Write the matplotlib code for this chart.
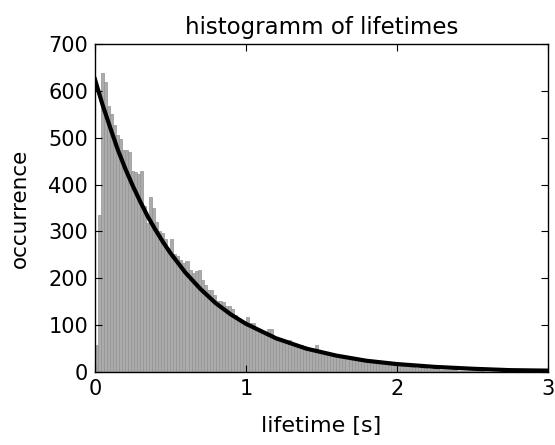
import numpy as np
import matplotlib
matplotlib.use('Agg')
import matplotlib.pyplot as plt

plt.rcParams['font.family'] = ['DejaVu Sans']

# histogram: bin width 0.02 s, counts
bin_width = 0.02
counts = [58, 336, 639, 618, 568, 551, 527, 506, 497, 473,
          473, 469, 430, 426, 423, 430, 355, 318, 374, 350,
          321, 301, 297, 283, 265, 283, 251, 248, 240, 233,
          236, 218, 211, 215, 218, 197, 185, 176, 174, 165,
          152, 152, 150, 140, 140, 134, 122, 116, 111, 108,
          117, 105, 105, 94, 92, 86, 80, 91, 91, 75,
          73, 73, 70, 65, 69, 60, 59, 58, 57, 55,
          50, 49, 48, 58, 45, 43, 42, 41, 40, 38,
          35, 34, 33, 32, 30, 29, 28, 27, 25, 24,
          23, 22, 21, 20, 19, 18, 17, 16, 15, 14,
          14, 13, 12, 11, 11, 10, 9, 9, 8, 8,
          7, 7, 6, 6, 5, 5, 5, 4, 4, 4,
          3, 3, 3, 3, 2, 2, 2, 2, 2, 1,
          1, 1, 1, 1, 1, 1, 0, 1, 0, 0,
          0, 0, 0, 0, 0, 0, 0, 0, 0, 0]
bin_left = np.arange(len(counts)) * bin_width

# exponential fit curve
fit_t = [0, 0.05, 0.1, 0.15, 0.2, 0.25, 0.3, 0.35, 0.4, 0.45, 0.5, 0.6, 0.7, 0.8,
         0.9, 1.0, 1.2, 1.4, 1.6, 1.8, 2.0, 2.25, 2.5, 2.75, 3.0]
fit_n = [625, 571, 523, 476, 435, 398, 364, 332, 304, 278, 254, 212, 177, 147,
         123, 103, 72, 50, 35, 24, 17, 11, 7, 4, 3]

fig = plt.figure(figsize=(5.55, 4.45), dpi=100)
ax = fig.add_axes([0.171, 0.164, 0.816, 0.737])

ax.bar(bin_left, counts, width=bin_width, align='edge',
       color='#ababab', edgecolor='#939393', linewidth=0.5)
ax.plot(fit_t, fit_n, color='black', linewidth=3)

ax.set_xlim(0, 3)
ax.set_ylim(0, 700)
ax.set_xticks([0, 1, 2, 3])
ax.set_yticks(range(0, 701, 100))
ax.tick_params(direction='in', top=True, right=True, length=5, width=0.8,
               labelsize=15, pad=5)
for s in ax.spines.values():
    s.set_linewidth(1.0)

ax.set_xlabel('lifetime [s]', fontsize=16, labelpad=12)
ax.set_ylabel('occurrence', fontsize=15.5, labelpad=13)
ax.set_title('histogramm of lifetimes', fontsize=16.5, pad=7)

fig.savefig('out.png', dpi=100)
